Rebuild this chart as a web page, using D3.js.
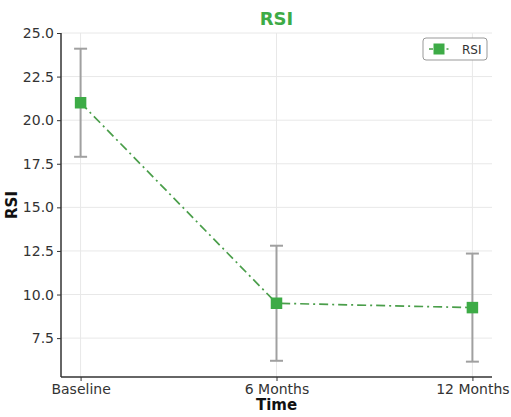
<!DOCTYPE html>
<html>
<head>
<meta charset="utf-8">
<script src="https://cdn.jsdelivr.net/npm/d3@7"></script>
<style>
  body { margin: 0; background: #fff; }
  svg { display: block; font-family: "DejaVu Sans", sans-serif; }
</style>
</head>
<body>
<div id="chart"></div>
<script>
// data
var timePoints = ["Baseline", "6 Months", "12 Months"];
var rsiMean = [21.0, 9.5, 9.25];
var rsiErr = [3.1, 3.3, 3.1];
var yTicks = [7.5, 10.0, 12.5, 15.0, 17.5, 20.0, 22.5, 25.0];

var svgWidth = 511;
var svgHeight = 417;

var margin = { top: 33, right: 19, bottom: 40, left: 61 };
var chartWidth = svgWidth - margin.left - margin.right;
var chartHeight = svgHeight - margin.top - margin.bottom;

var green = "#3dab46";
var lineGreen = "#4a9e4a";

var svg = d3.select("#chart").append("svg")
  .attr("width", svgWidth)
  .attr("height", svgHeight);

var chartGroup = svg.append("g")
  .attr("transform", `translate(${margin.left}, ${margin.top})`);

// x is an index scale, padded like matplotlib's default margins
var xScale = d3.scaleLinear()
  .domain([-0.1, timePoints.length - 1 + 0.1])
  .range([0, chartWidth]);

var yScale = d3.scaleLinear()
  .domain([5.27, 25.0])
  .range([chartHeight, 0]);

// grid
chartGroup.append("g")
  .selectAll("line.hgrid")
  .data(yTicks)
  .enter().append("line")
  .attr("x1", 0).attr("x2", chartWidth)
  .attr("y1", d => yScale(d)).attr("y2", d => yScale(d))
  .attr("stroke", "#e8e8e8").attr("stroke-width", 1);

chartGroup.append("g")
  .selectAll("line.vgrid")
  .data(timePoints)
  .enter().append("line")
  .attr("x1", (d, i) => xScale(i)).attr("x2", (d, i) => xScale(i))
  .attr("y1", 0).attr("y2", chartHeight)
  .attr("stroke", "#e8e8e8").attr("stroke-width", 1);

// axes
var leftAxis = d3.axisLeft(yScale)
  .tickValues(yTicks)
  .tickFormat(d3.format(".1f"))
  .tickSize(4)
  .tickPadding(3);

var bottomAxis = d3.axisBottom(xScale)
  .tickValues(d3.range(timePoints.length))
  .tickFormat(i => timePoints[i])
  .tickSize(4)
  .tickPadding(3);

var yAxisG = chartGroup.append("g").call(leftAxis);
var xAxisG = chartGroup.append("g")
  .attr("transform", "translate(0, " + chartHeight + ")")
  .call(bottomAxis);

[yAxisG, xAxisG].forEach(function (g) {
  g.select(".domain").attr("stroke", "#333").attr("stroke-width", 1.5);
  g.selectAll(".tick line").attr("stroke", "#333").attr("stroke-width", 1);
  g.selectAll(".tick text")
    .attr("fill", "#333")
    .style("font-size", "14px")
    .style("font-family", "DejaVu Sans, sans-serif");
});
// remove outer tick stubs on the domain path ends
yAxisG.select(".domain").attr("d", "M0," + chartHeight + "V0");
xAxisG.select(".domain").attr("d", "M0,0H" + chartWidth);

// error bars
var errG = chartGroup.append("g");
timePoints.forEach(function (t, i) {
  var x = xScale(i);
  var y1 = yScale(rsiMean[i] + rsiErr[i]);
  var y2 = yScale(rsiMean[i] - rsiErr[i]);
  errG.append("line")
    .attr("x1", x).attr("x2", x).attr("y1", y1).attr("y2", y2)
    .attr("stroke", "#a0a0a0").attr("stroke-width", 2);
  [y1, y2].forEach(function (yy) {
    errG.append("line")
      .attr("x1", x - 6.5).attr("x2", x + 6.5).attr("y1", yy).attr("y2", yy)
      .attr("stroke", "#a0a0a0").attr("stroke-width", 2);
  });
});

// line
var line = d3.line()
  .x((d, i) => xScale(i))
  .y(d => yScale(d));

chartGroup.append("path")
  .datum(rsiMean)
  .attr("d", line)
  .attr("fill", "none")
  .attr("stroke", lineGreen)
  .attr("stroke-width", 1.7)
  .attr("stroke-dasharray", "9,4,2,4");

// markers
var ms = 11.5;
chartGroup.selectAll(".marker")
  .data(rsiMean)
  .enter().append("rect")
  .attr("class", "marker")
  .attr("x", (d, i) => xScale(i) - ms / 2)
  .attr("y", d => yScale(d) - ms / 2)
  .attr("width", ms)
  .attr("height", ms)
  .attr("fill", green);

// title and labels
svg.append("text")
  .attr("x", margin.left + chartWidth / 2)
  .attr("y", 25)
  .attr("text-anchor", "middle")
  .attr("fill", green)
  .style("font-size", "18px")
  .style("font-weight", "bold")
  .text("RSI");

svg.append("text")
  .attr("x", margin.left + chartWidth / 2)
  .attr("y", 410)
  .attr("text-anchor", "middle")
  .attr("fill", "#111")
  .style("font-size", "15px")
  .style("font-weight", "bold")
  .text("Time");

svg.append("text")
  .attr("transform", "translate(17, " + (margin.top + chartHeight / 2) + ") rotate(-90)")
  .attr("text-anchor", "middle")
  .attr("fill", "#111")
  .style("font-size", "15px")
  .style("font-weight", "bold")
  .text("RSI");

// legend
var legend = svg.append("g").attr("transform", "translate(423, 38)");
legend.append("rect")
  .attr("width", 64).attr("height", 22)
  .attr("rx", 3)
  .attr("fill", "#fff")
  .attr("stroke", "#999")
  .attr("stroke-width", 1);
legend.append("line")
  .attr("x1", 6).attr("x2", 28).attr("y1", 11).attr("y2", 11)
  .attr("stroke", lineGreen).attr("stroke-width", 1.7)
  .attr("stroke-dasharray", "4,2.5,2,2.5");
legend.append("rect")
  .attr("x", 16 - 5.5).attr("y", 11 - 5.5)
  .attr("width", 11).attr("height", 11)
  .attr("fill", green);
legend.append("text")
  .attr("x", 39).attr("y", 15.5)
  .attr("fill", "#333")
  .style("font-size", "12px")
  .text("RSI");
</script>
</body>
</html>
